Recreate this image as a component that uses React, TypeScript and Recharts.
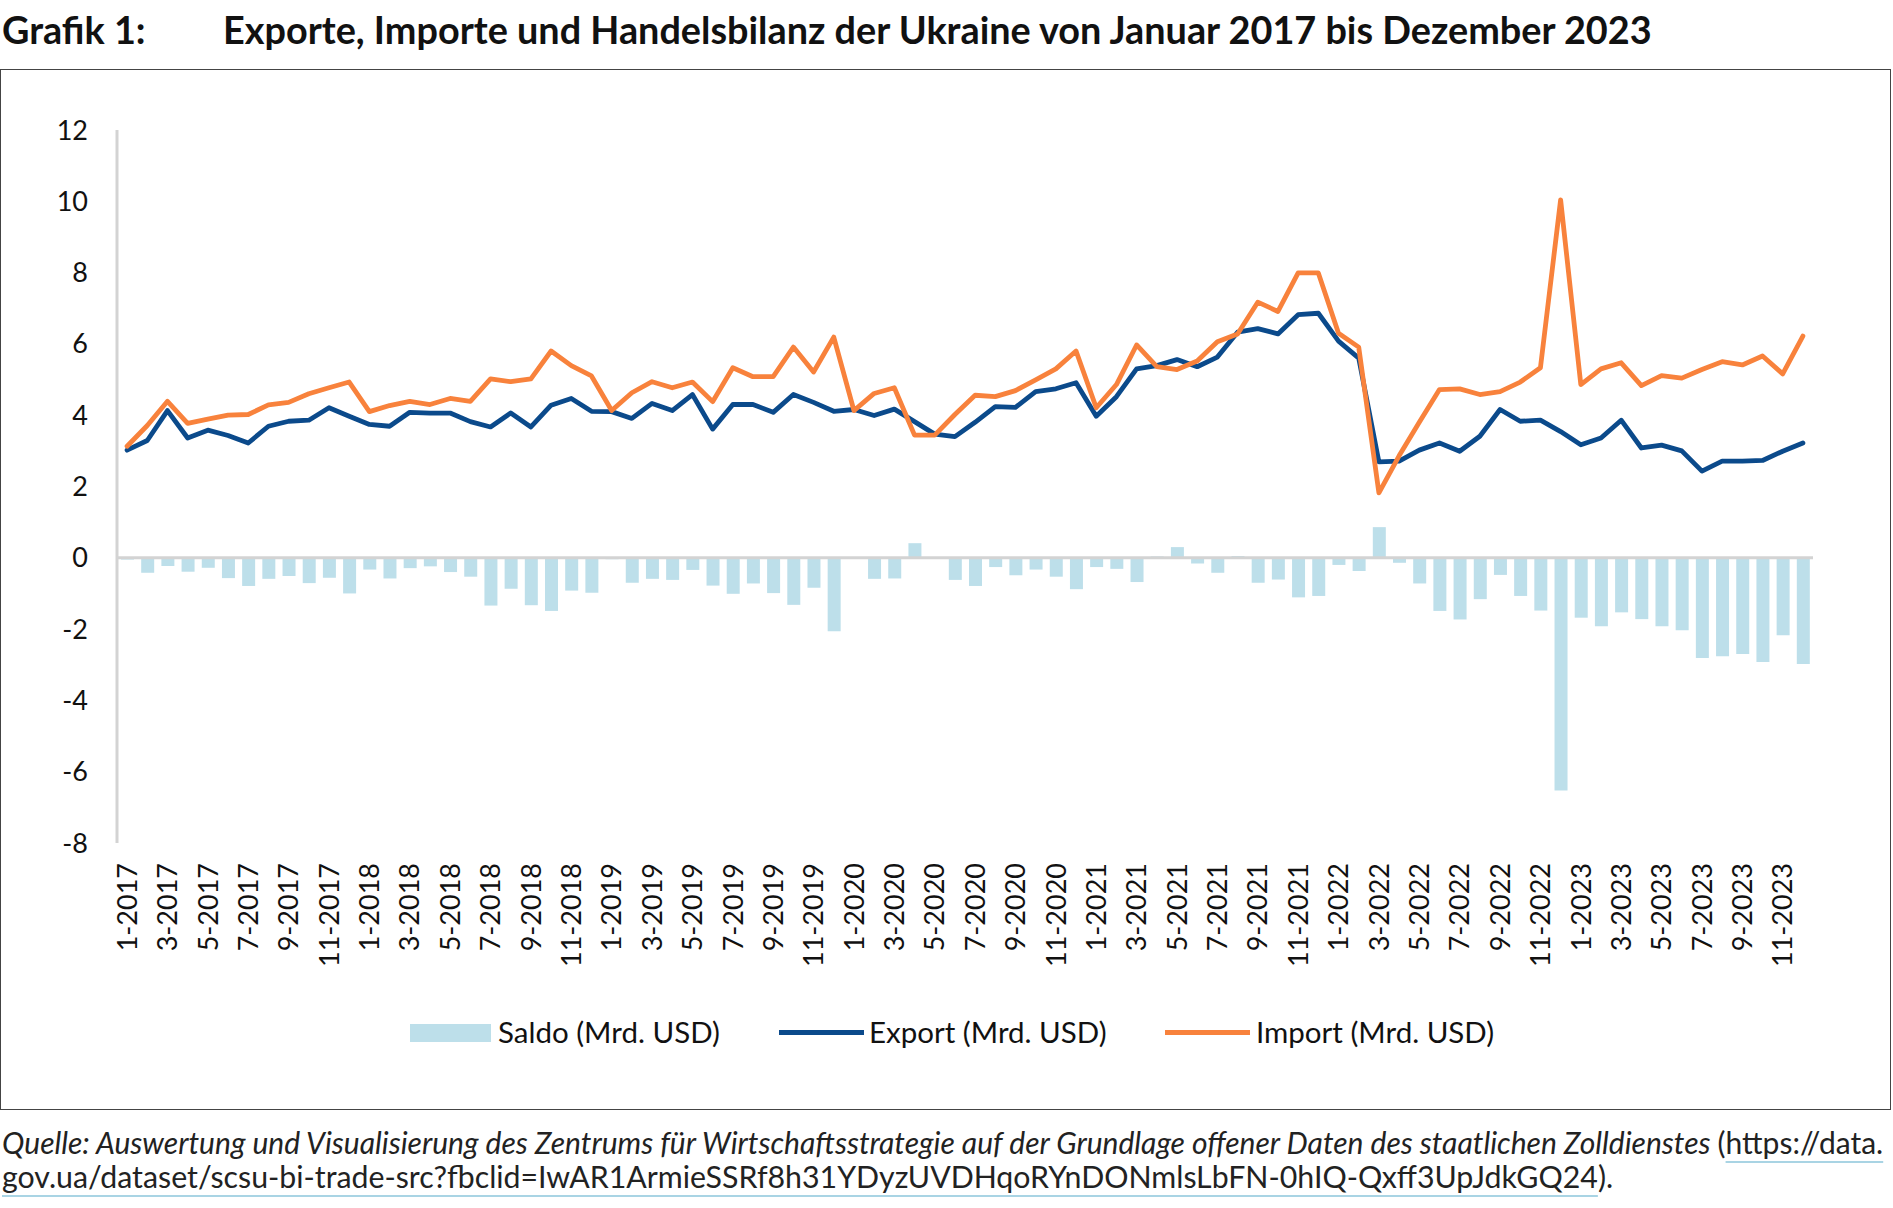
import React from 'react';
import { ComposedChart, Bar, Line, XAxis, YAxis, ReferenceLine } from 'recharts';

const years = [2017, 2018, 2019, 2020, 2021, 2022, 2023];
const monthNumbers = [1, 2, 3, 4, 5, 6, 7, 8, 9, 10, 11, 12];
const categories = years.flatMap((y) => monthNumbers.map((m) => `${m}-${y}`));

// Mrd. USD per month
const exportValues = [
  3.02, 3.29, 4.13, 3.36, 3.58, 3.43, 3.22, 3.69, 3.83, 3.86, 4.21, 3.97,
  3.74, 3.69, 4.08, 4.06, 4.06, 3.82, 3.67, 4.06, 3.67, 4.28, 4.47, 4.11,
  4.10, 3.91, 4.33, 4.13, 4.58, 3.61, 4.30, 4.30, 4.08, 4.58, 4.36, 4.11,
  4.16, 3.99, 4.17, 3.82, 3.47, 3.40, 3.80, 4.24, 4.22, 4.66, 4.74, 4.91,
  3.97, 4.52, 5.30, 5.39, 5.56, 5.36, 5.63, 6.33, 6.43, 6.28, 6.82, 6.86,
  6.08, 5.60, 2.69, 2.71, 3.02, 3.22, 2.99, 3.41, 4.16, 3.83, 3.86, 3.54,
  3.17, 3.36, 3.86, 3.08, 3.16, 3.00, 2.43, 2.71, 2.71, 2.73, 2.99, 3.22,
];

const importValues = [
  3.13, 3.71, 4.39, 3.77, 3.89, 4.00, 4.02, 4.29, 4.36, 4.60, 4.77, 4.93,
  4.10, 4.27, 4.39, 4.30, 4.47, 4.39, 5.02, 4.94, 5.02, 5.80, 5.39, 5.10,
  4.13, 4.63, 4.94, 4.77, 4.93, 4.38, 5.33, 5.08, 5.08, 5.91, 5.21, 6.19,
  4.13, 4.61, 4.77, 3.44, 3.44, 4.02, 4.56, 4.52, 4.69, 4.99, 5.30, 5.80,
  4.21, 4.86, 5.97, 5.36, 5.28, 5.52, 6.06, 6.28, 7.17, 6.91, 7.99, 7.99,
  6.30, 5.91, 1.82, 2.86, 3.80, 4.72, 4.74, 4.58, 4.66, 4.93, 5.33, 10.04,
  4.86, 5.30, 5.47, 4.83, 5.11, 5.04, 5.28, 5.50, 5.41, 5.66, 5.16, 6.22,
];

const saldoValues = [
  -0.05, -0.42, -0.23, -0.39, -0.28, -0.57, -0.79, -0.59, -0.51, -0.71, -0.56, -1.0,
  -0.33, -0.58, -0.29, -0.24, -0.4, -0.53, -1.34, -0.87, -1.33, -1.49, -0.92, -0.98,
  -0.04, -0.7, -0.59, -0.62, -0.34, -0.78, -1.01, -0.72, -0.99, -1.32, -0.84, -2.06,
  0.02, -0.59, -0.58, 0.41, 0.02, -0.62, -0.79, -0.26, -0.49, -0.33, -0.53, -0.88,
  -0.26, -0.31, -0.68, 0.04, 0.3, -0.16, -0.42, 0.05, -0.7, -0.61, -1.11, -1.07,
  -0.2, -0.37, 0.86, -0.14, -0.72, -1.49, -1.73, -1.16, -0.48, -1.07, -1.48, -6.53,
  -1.68, -1.92, -1.53, -1.72, -1.92, -2.03, -2.81, -2.76, -2.7, -2.92, -2.17, -2.98,
];

const yTicks = [-8, -6, -4, -2, 0, 2, 4, 6, 8, 10, 12];

const data = categories.map((month, i) => ({
  month,
  saldo: saldoValues[i],
  exportValue: exportValues[i],
  importValue: importValues[i],
}));

const SALDO = '#BDDFEA';
const EXPORT = '#0B4A8B';
const IMPORT = '#F8823C';
const AXIS = '#D3D3D3';
const FONT = 'Lato, "Open Sans", sans-serif';

const MonthTick = (props: any) => {
  const { x, y, payload } = props;
  return (
    <text
      x={0}
      y={0}
      transform={`translate(${x},${y}) rotate(-90)`}
      textAnchor="end"
      dy="0.36em"
      fill="#111"
      fontSize={27}
      fontFamily={FONT}
    >
      {payload.value}
    </text>
  );
};

const linkStyle = {
  textDecoration: 'underline',
  textDecorationColor: '#A9D4E4',
  textDecorationThickness: 2,
  textUnderlineOffset: 7,
};

export default function App() {
  return (
    <div
      style={{
        position: 'absolute',
        left: 0,
        top: 0,
        width: 1893,
        height: 1208,
        background: '#fff',
        fontFamily: FONT,
        color: '#111',
      }}
    >
      <div style={{ position: 'absolute', left: 2, top: 10, fontSize: 37.8, fontWeight: 700, lineHeight: '40px', whiteSpace: 'nowrap' }}>
        Grafik 1:
      </div>
      <div style={{ position: 'absolute', left: 223, top: 10, fontSize: 37.8, fontWeight: 700, lineHeight: '40px', whiteSpace: 'nowrap' }}>
        Exporte, Importe und Handelsbilanz der Ukraine von Januar 2017 bis Dezember 2023
      </div>

      <div
        style={{
          position: 'absolute',
          left: 0,
          top: 69,
          width: 1891,
          height: 1041,
          border: '1.5px solid #444',
          boxSizing: 'border-box',
        }}
      />

      <div style={{ position: 'absolute', left: 0, top: 0 }}>
        <ComposedChart
          width={1893}
          height={1000}
          data={data}
          margin={{ top: 130, right: 80, left: 57, bottom: 0 }}
        >
          <XAxis
            dataKey="month"
            interval={1}
            axisLine={false}
            tickLine={false}
            tickSize={0}
            tickMargin={20}
            height={157}
            tick={<MonthTick />}
          />
          <YAxis
            domain={[-8, 12]}
            ticks={yTicks}
            width={60}
            axisLine={{ stroke: AXIS, strokeWidth: 3 }}
            tickLine={false}
            tickSize={0}
            tickMargin={29}
            tick={{ fill: '#111', fontSize: 27, fontFamily: FONT }}
          />
          <ReferenceLine y={0} stroke={AXIS} strokeWidth={3} />
          <Bar dataKey="saldo" name="Saldo (Mrd. USD)" fill={SALDO} barSize={13} isAnimationActive={false} />
          <Line
            type="linear"
            dataKey="exportValue"
            name="Export (Mrd. USD)"
            stroke={EXPORT}
            strokeWidth={4.8}
            strokeLinejoin="round"
            strokeLinecap="round"
            dot={false}
            isAnimationActive={false}
          />
          <Line
            type="linear"
            dataKey="importValue"
            name="Import (Mrd. USD)"
            stroke={IMPORT}
            strokeWidth={4.8}
            strokeLinejoin="round"
            strokeLinecap="round"
            dot={false}
            isAnimationActive={false}
          />
        </ComposedChart>
      </div>

      {/* legend */}
      <div style={{ position: 'absolute', left: 410, top: 1024, width: 81, height: 18, background: SALDO }} />
      <div style={{ position: 'absolute', left: 498, top: 1014, fontSize: 29.5, lineHeight: '36px', whiteSpace: 'nowrap' }}>
        Saldo (Mrd. USD)
      </div>
      <div style={{ position: 'absolute', left: 779, top: 1030, width: 85, height: 5, background: EXPORT }} />
      <div style={{ position: 'absolute', left: 869, top: 1014, fontSize: 29.5, lineHeight: '36px', whiteSpace: 'nowrap' }}>
        Export (Mrd. USD)
      </div>
      <div style={{ position: 'absolute', left: 1165, top: 1030, width: 85, height: 5, background: IMPORT }} />
      <div style={{ position: 'absolute', left: 1256, top: 1014, fontSize: 29.5, lineHeight: '36px', whiteSpace: 'nowrap' }}>
        Import (Mrd. USD)
      </div>

      {/* source */}
      <div style={{ position: 'absolute', left: 2, top: 1125, lineHeight: '34px', whiteSpace: 'nowrap', color: '#222' }}>
        <div style={{ fontSize: 30 }}>
          <i>Quelle: Auswertung und Visualisierung des Zentrums für Wirtschaftsstrategie auf der Grundlage offener Daten des staatlichen Zolldienstes </i>
          (<span style={linkStyle}>https://data.</span>
        </div>
        <div style={{ fontSize: 30.3 }}>
          <span style={linkStyle}>
            gov.ua/dataset/scsu-bi-trade-src?fbclid=IwAR1ArmieSSRf8h31YDyzUVDHqoRYnDONmlsLbFN-0hIQ-Qxff3UpJdkGQ24
          </span>
          ).
        </div>
      </div>
    </div>
  );
}
